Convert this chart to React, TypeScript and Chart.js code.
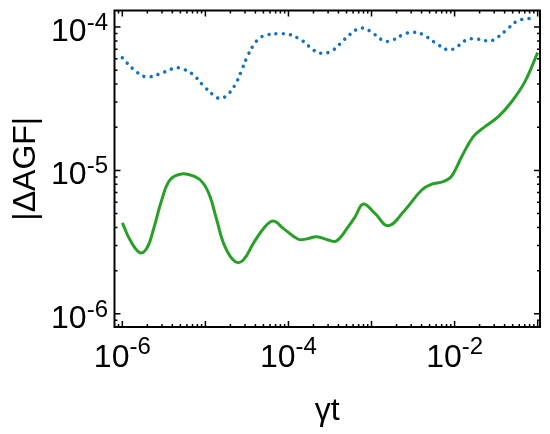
import React, { useEffect, useRef } from "react";
import { Chart, registerables } from "chart.js";

Chart.register(...registerables);

// Blue dotted series
const blueX = [
  1.0e-6, 1.35e-6, 1.89e-6, 2.74e-6, 3.96e-6, 4.81e-6, 6.97e-6, 9.29e-6,
  1.24e-5, 1.47e-5, 1.76e-5, 2.25e-5, 2.69e-5, 3.17e-5, 3.85e-5, 4.51e-5,
  5.47e-5, 8.36e-5, 1.02e-4, 1.47e-4, 2.01e-4, 2.5e-4, 3.37e-4, 4.67e-4,
  6.68e-4, 8.18e-4, 9.93e-4, 1.4e-3, 1.71e-3, 2.39e-3, 3.07e-3, 4.08e-3,
  5.81e-3, 8.26e-3, 1.0e-2, 1.38e-2, 1.76e-2, 2.39e-2, 2.92e-2, 4.12e-2,
  5.64e-2, 7.43e-2, 8.77e-2,
];
const blueY = [
  6.11e-5, 5.1e-5, 4.5e-5, 4.68e-5, 5.1e-5, 5.18e-5, 4.7e-5, 3.94e-5,
  3.36e-5, 3.18e-5, 3.29e-5, 3.9e-5, 4.88e-5, 6.15e-5, 7.57e-5, 8.38e-5,
  8.8e-5, 8.98e-5, 8.89e-5, 8.02e-5, 6.89e-5, 6.56e-5, 6.84e-5, 8.15e-5,
  9.64e-5, 9.79e-5, 9.23e-5, 8.02e-5, 8.02e-5, 8.84e-5, 9.18e-5, 8.89e-5,
  7.78e-5, 6.92e-5, 7.1e-5, 8.11e-5, 8.28e-5, 8.02e-5, 8.11e-5, 9.42e-5,
  1.1e-4, 1.14e-4, 1.15e-4,
];

// Green solid series
const greenX = [
  1.0e-6, 1.24e-6, 1.63e-6, 1.97e-6, 2.36e-6, 2.98e-6, 3.75e-6, 5.19e-6,
  7.5e-6, 9.44e-6, 1.14e-5, 1.37e-5, 1.72e-5, 2.28e-5, 2.86e-5, 3.78e-5,
  5.22e-5, 6.58e-5, 8.67e-5, 1.31e-4, 1.66e-4, 2.19e-4, 3.02e-4, 3.78e-4,
  5.25e-4, 6.32e-4, 7.96e-4, 1.1e-3, 1.59e-3, 2.53e-3, 4.02e-3, 5.3e-3,
  7.31e-3, 9.23e-3, 1.22e-2, 1.68e-2, 2.32e-2, 3.36e-2, 4.86e-2, 7.03e-2,
  1.0e-1,
];
const greenY = [
  4.31e-6, 3.27e-6, 2.67e-6, 2.86e-6, 3.84e-6, 6.22e-6, 8.58e-6, 9.44e-6,
  9.04e-6, 8.13e-6, 6.56e-6, 4.51e-6, 2.94e-6, 2.31e-6, 2.37e-6, 3.1e-6,
  4.05e-6, 4.43e-6, 3.94e-6, 3.31e-6, 3.33e-6, 3.45e-6, 3.27e-6, 3.22e-6,
  4.05e-6, 4.73e-6, 5.83e-6, 5.02e-6, 4.11e-6, 5.3e-6, 7.3e-6, 8.03e-6,
  8.34e-6, 9.14e-6, 1.25e-5, 1.72e-5, 2.02e-5, 2.37e-5, 3.01e-5, 4.16e-5,
  6.62e-5,
];

// Axis ranges and labels
const xMin = 8.05e-7;
const xMax = 0.1067;
const yMin = 8.09e-7;
const yMax = 1.303e-4;
const xLabelExps = [-6, -4, -2];
const yLabelExps = [-6, -5, -4];
const xTitle = "γt";
const yTitle = "|ΔAGF|";

const FONT = "'Liberation Sans', Arial, Helvetica, sans-serif";

const framePlugin = {
  id: "framePlugin",
  afterDraw(chart: any) {
    const ctx = chart.ctx as CanvasRenderingContext2D;
    const a = chart.chartArea;
    const xs = chart.scales.x;
    const ys = chart.scales.y;
    ctx.save();
    ctx.strokeStyle = "#000";
    ctx.fillStyle = "#000";

    // ticks
    ctx.lineWidth = 1.5;
    ctx.beginPath();
    for (let k = -8; k <= 1; k++) {
      for (let m = 1; m <= 9; m++) {
        const v = m * Math.pow(10, k);
        const len = m === 1 ? 6 : 3;
        if (v >= xMin && v <= xMax) {
          const px = xs.getPixelForValue(v);
          ctx.moveTo(px, a.bottom);
          ctx.lineTo(px, a.bottom - len);
          ctx.moveTo(px, a.top);
          ctx.lineTo(px, a.top + len);
        }
        if (v >= yMin && v <= yMax) {
          const py = ys.getPixelForValue(v);
          ctx.moveTo(a.left, py);
          ctx.lineTo(a.left + len, py);
          ctx.moveTo(a.right, py);
          ctx.lineTo(a.right - len, py);
        }
      }
    }
    ctx.stroke();

    // frame
    ctx.lineWidth = 2;
    ctx.strokeRect(a.left, a.top, a.right - a.left, a.bottom - a.top);

    // y tick labels
    ctx.textBaseline = "alphabetic";
    for (const e of yLabelExps) {
      const py = ys.getPixelForValue(Math.pow(10, e));
      const expStr = String(e);
      ctx.font = `24px ${FONT}`;
      const we = ctx.measureText(expStr).width;
      ctx.textAlign = "right";
      const right = a.left - 6.5;
      ctx.fillText(expStr, right, py + 3);
      ctx.font = `32px ${FONT}`;
      ctx.fillText("10", right - we, py + 14);
    }

    // x tick labels
    for (const e of xLabelExps) {
      const px = xs.getPixelForValue(Math.pow(10, e));
      const expStr = String(e);
      ctx.font = `32px ${FONT}`;
      const wb = ctx.measureText("10").width;
      ctx.font = `24px ${FONT}`;
      const we = ctx.measureText(expStr).width;
      const start = px - (wb + we) / 2;
      ctx.textAlign = "left";
      ctx.font = `32px ${FONT}`;
      ctx.fillText("10", start, a.bottom + 40);
      ctx.font = `24px ${FONT}`;
      ctx.fillText(expStr, start + wb, a.bottom + 26.5);
    }

    // titles
    ctx.font = `32px ${FONT}`;
    ctx.textAlign = "center";
    ctx.fillText(xTitle, (a.left + a.right) / 2, 420);
    ctx.save();
    ctx.translate(35, (a.top + a.bottom) / 2);
    ctx.rotate(-Math.PI / 2);
    ctx.fillText(yTitle, 0, 0);
    ctx.restore();

    ctx.restore();
  },
};

export default function App() {
  const ref = useRef<HTMLCanvasElement | null>(null);
  useEffect(() => {
    if (!ref.current) return;
    const chart = new Chart(ref.current, {
      type: "line",
      data: {
        datasets: [
          {
            data: blueX.map((x, i) => ({ x, y: blueY[i] })),
            borderColor: "rgb(20,114,192)",
            borderWidth: 3.5,
            borderDash: [0.01, 7.2],
            borderCapStyle: "round",
            pointRadius: 0,
            tension: 0.4,
            fill: false,
          },
          {
            data: greenX.map((x, i) => ({ x, y: greenY[i] })),
            borderColor: "rgb(40,160,40)",
            borderWidth: 3,
            borderJoinStyle: "round",
            pointRadius: 0,
            tension: 0.4,
            fill: false,
          },
        ],
      } as any,
      options: {
        responsive: false,
        animation: false,
        layout: { padding: { left: 114.5, right: 10, top: 10.5, bottom: 107 } },
        plugins: { legend: { display: false }, tooltip: { enabled: false } },
        scales: {
          x: { type: "logarithmic", min: xMin, max: xMax, display: false },
          y: { type: "logarithmic", min: yMin, max: yMax, display: false },
        },
      } as any,
      plugins: [framePlugin],
    });
    return () => chart.destroy();
  }, []);
  return (
    <div style={{ position: "absolute", left: 0, top: 0, width: 550, height: 434, background: "#fff" }}>
      <canvas ref={ref} width={550} height={434} style={{ display: "block" }} />
    </div>
  );
}
